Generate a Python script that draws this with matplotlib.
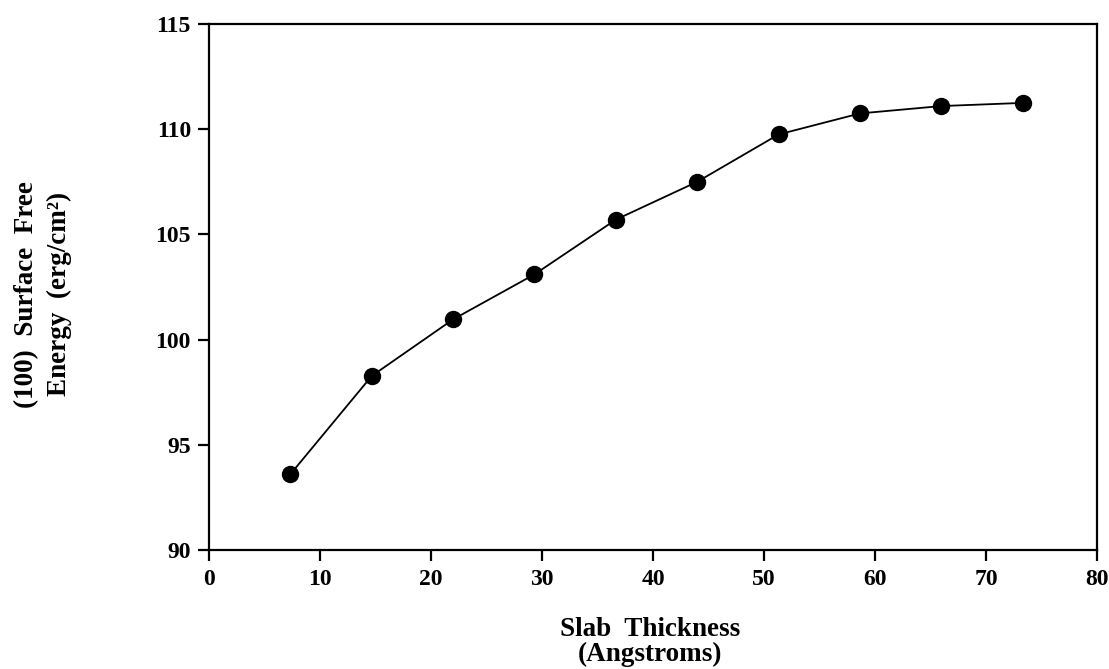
import matplotlib.pyplot as plt

# Slab thickness (Angstroms) and (100) surface free energy (erg/cm^2)
thickness = [7.33, 14.66, 21.99, 29.32, 36.65, 43.98, 51.31, 58.64, 65.97, 73.3]
energy = [93.6, 98.27, 100.96, 103.1, 105.7, 107.5, 109.75, 110.75, 111.1, 111.25]

x_ticks = [0, 10, 20, 30, 40, 50, 60, 70, 80]
y_ticks = [90, 95, 100, 105, 110, 115]

plt.rcParams['font.family'] = ['Liberation Serif', 'DejaVu Serif']
plt.rcParams['font.weight'] = 'bold'

fig = plt.figure(figsize=(11.09, 6.69), dpi=100)
ax = fig.add_axes([0.1885, 0.178, 0.8007, 0.7861])

ax.plot(thickness, energy, color='black', linewidth=1.3,
        marker='o', markersize=11.5)

ax.set_xlim(0, 80)
ax.set_ylim(90, 115)
ax.set_xticks(x_ticks)
ax.set_yticks(y_ticks)
ax.tick_params(direction='out', length=8, width=1.6, labelsize=17)
ax.tick_params(axis='x', pad=6)
ax.tick_params(axis='y', pad=5)
for lbl in ax.get_xticklabels() + ax.get_yticklabels():
    lbl.set_fontweight('bold')
for sp in ax.spines.values():
    sp.set_linewidth(1.6)

fig.text(0.039, 0.56, '(100)  Surface  Free\nEnergy  (erg/cm²)',
         rotation=90, ha='center', va='center', fontsize=19.5,
         fontweight='bold', linespacing=1.4)
fig.text(0.586, 0.0405, 'Slab  Thickness\n(Angstroms)', ha='center',
         va='center', fontsize=19.5, fontweight='bold', linespacing=1.0)

plt.savefig('out.png', dpi=100)
